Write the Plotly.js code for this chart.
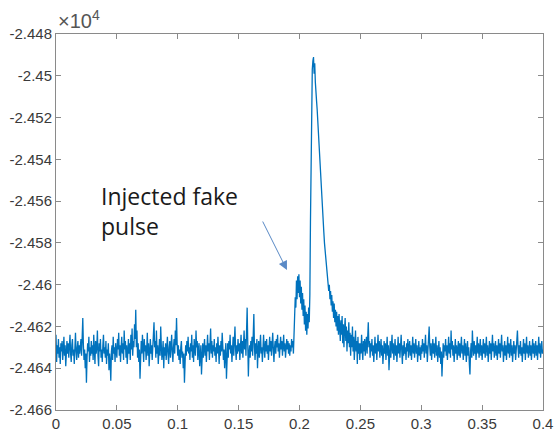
<!DOCTYPE html>
<html>
<head>
<meta charset="utf-8">
<script src="https://cdn.plot.ly/plotly-3.0.1.min.js"></script>
<style>html,body{margin:0;padding:0;background:#fff;}#chart{width:554px;height:435px;}</style>
</head>
<body>
<div id="chart"></div>
<script>
// sample spacing (s) and raw signal values (counts); axis shows them scaled by 1e4
var sampleStep = 0.0005;
var signalPre = [
-24624,-24637,-24629,-24633,-24626,-24635,-24630,-24638,-24628,-24632,-24627,-24636,-24631,-24625,-24634,-24629,-24639,-24630,-24627,-24633,
-24628,-24635,-24630,-24624,-24633,-24637,-24629,-24626,-24634,-24631,-24638,-24628,-24623,-24632,-24636,-24630,-24627,-24635,-24629,-24633,
-24630,-24626,-24634,-24628,-24616,-24629,-24636,-24631,-24640,-24633,-24647,-24635,-24628,-24632,-24625,-24637,-24630,-24634,-24627,-24633,
-24629,-24636,-24624,-24631,-24638,-24627,-24633,-24630,-24622,-24634,-24639,-24628,-24632,-24626,-24635,-24631,-24637,-24629,-24624,-24633,
-24630,-24635,-24627,-24638,-24631,-24634,-24628,-24641,-24633,-24637,-24646,-24632,-24629,-24636,-24625,-24633,-24630,-24637,-24628,-24632,
-24635,-24626,-24631,-24623,-24634,-24629,-24637,-24630,-24625,-24633,-24628,-24636,-24622,-24631,-24627,-24635,-24629,-24638,-24631,-24626,
-24633,-24628,-24636,-24624,-24631,-24621,-24634,-24627,-24630,-24619,-24626,-24612,-24630,-24622,-24635,-24628,-24637,-24631,-24645,-24634,
-24627,-24633,-24624,-24630,-24637,-24626,-24632,-24629,-24636,-24631,-24623,-24634,-24628,-24639,-24630,-24626,-24633,-24629,-24636,-24631,
-24625,-24618,-24630,-24627,-24635,-24622,-24633,-24629,-24638,-24631,-24626,-24634,-24620,-24629,-24636,-24632,-24627,-24640,-24630,-24634,
-24628,-24636,-24631,-24625,-24633,-24638,-24630,-24627,-24635,-24629,-24624,-24632,-24637,-24630,-24626,-24633,-24622,-24629,-24616,-24628,
-24634,-24629,-24636,-24631,-24638,-24630,-24627,-24635,-24632,-24640,-24633,-24647,-24636,-24629,-24634,-24627,-24632,-24625,-24633,-24630,
-24636,-24628,-24632,-24624,-24635,-24629,-24637,-24626,-24631,-24634,-24622,-24630,-24627,-24636,-24631,-24628,-24639,-24632,-24629,-24643,
-24633,-24628,-24635,-24630,-24626,-24634,-24629,-24637,-24631,-24624,-24632,-24628,-24636,-24630,-24621,-24633,-24627,-24635,-24629,-24632,
-24626,-24634,-24630,-24637,-24628,-24633,-24625,-24631,-24638,-24629,-24634,-24627,-24632,-24623,-24630,-24636,-24631,-24640,-24633,-24628,
-24645,-24632,-24628,-24635,-24627,-24631,-24624,-24633,-24629,-24637,-24630,-24625,-24634,-24628,-24620,-24631,-24636,-24629,-24633,-24626,
-24632,-24628,-24636,-24630,-24624,-24633,-24627,-24635,-24629,-24622,-24631,-24626,-24634,-24618,-24611,-24628,-24644,-24633,-24629,-24635,
-24627,-24632,-24625,-24634,-24621,-24614,-24630,-24636,-24628,-24633,-24626,-24640,-24631,-24627,-24635,-24629,-24624,-24633,-24630,-24637,
-24628,-24624,-24631,-24635,-24627,-24632,-24626,-24633,-24629,-24636,-24630,-24625,-24632,-24627,-24634,-24629,-24623,-24631,-24637,-24630,
-24627,-24633,-24626,-24630,-24624,-24632,-24628,-24635,-24629,-24625,-24631,-24627,-24634,-24630,-24624,-24632,-24628,-24635,-24630,-24626
];
var signalPulse = [
-24631,-24627,-24633,-24628,-24634,-24629,-24632,-24626,-24630,-24627,-24633,-24626,-24618,-24606,-24611,-24598,-24607,-24596,-24604,-24595,
-24606,-24598,-24609,-24601,-24612,-24604,-24615,-24607,-24619,-24610,-24622,-24613,-24624,-24614,-24621,-24611,-24618,-24605,-24570,-24535,
-24510,-24497,-24493,-24491,-24499,-24494,-24503,-24506,-24512,-24516,-24522,-24526,-24533,-24537,-24545,-24549,-24556,-24562,-24566,-24572,
-24575,-24580,-24584,-24586,-24591,-24593,-24597,-24599,-24603,-24600,-24607,-24603,-24610,-24605,-24613,-24608,-24616,-24609,-24618,-24612,
-24620,-24613,-24622,-24615,-24624,-24614,-24621,-24627,-24617,-24624,-24615,-24628,-24619,-24630,-24621,-24616,-24627,-24620,-24632,-24622,
-24628,-24618,-24630,-24623,-24634,-24624,-24630,-24620,-24632,-24625,-24636,-24626,-24622,-24632,-24627,-24638,-24625,-24633,-24628,-24636
];
var signalPost = [
-24628,-24633,-24624,-24631,-24636,-24627,-24632,-24626,-24634,-24629,-24625,-24633,-24622,-24618,-24630,-24627,-24635,-24628,-24632,-24626,
-24634,-24629,-24637,-24630,-24625,-24633,-24628,-24636,-24631,-24624,-24632,-24627,-24635,-24630,-24626,-24634,-24629,-24638,-24631,-24627,
-24633,-24628,-24636,-24630,-24625,-24634,-24629,-24641,-24632,-24627,-24635,-24630,-24624,-24633,-24628,-24636,-24631,-24626,-24634,-24629,
-24637,-24630,-24625,-24633,-24628,-24635,-24631,-24624,-24632,-24638,-24629,-24634,-24627,-24633,-24630,-24636,-24628,-24632,-24626,-24635,
-24630,-24627,-24634,-24629,-24636,-24631,-24625,-24633,-24628,-24635,-24630,-24626,-24633,-24629,-24637,-24631,-24627,-24634,-24630,-24636,
-24629,-24633,-24626,-24632,-24628,-24635,-24630,-24624,-24633,-24629,-24637,-24631,-24627,-24620,-24630,-24634,-24628,-24636,-24631,-24626,
-24633,-24628,-24635,-24630,-24625,-24634,-24629,-24637,-24631,-24627,-24635,-24630,-24638,-24632,-24644,-24633,-24628,-24635,-24629,-24632,
-24626,-24634,-24629,-24636,-24630,-24625,-24633,-24628,-24635,-24622,-24631,-24627,-24634,-24629,-24637,-24631,-24626,-24633,-24629,-24636,
-24630,-24627,-24634,-24628,-24635,-24631,-24625,-24633,-24629,-24636,-24630,-24626,-24634,-24628,-24637,-24631,-24627,-24634,-24630,-24638,
-24643,-24632,-24628,-24635,-24622,-24630,-24634,-24627,-24633,-24629,-24636,-24630,-24625,-24633,-24628,-24635,-24631,-24626,-24634,-24629,
-24636,-24630,-24626,-24633,-24628,-24635,-24631,-24625,-24634,-24629,-24637,-24631,-24627,-24633,-24628,-24636,-24630,-24624,-24632,-24628,
-24635,-24630,-24627,-24634,-24629,-24636,-24631,-24626,-24633,-24628,-24635,-24630,-24624,-24632,-24629,-24637,-24631,-24627,-24634,-24629,
-24636,-24630,-24625,-24633,-24628,-24635,-24631,-24626,-24634,-24629,-24637,-24631,-24627,-24633,-24629,-24636,-24630,-24625,-24622,-24630,
-24635,-24629,-24633,-24627,-24634,-24630,-24637,-24631,-24626,-24633,-24628,-24636,-24630,-24625,-24633,-24629,-24635,-24631,-24627,-24634,
-24629,-24636,-24630,-24626,-24633,-24628,-24635,-24631,-24627,-24634,-24629,-24636,-24630,-24625,-24633,-24628,-24635,-24630,-24627,-24633,
-24631
];
var xTickVals = [0, 0.05, 0.1, 0.15, 0.2, 0.25, 0.3, 0.35, 0.4];
var xTickText = ["0", "0.05", "0.1", "0.15", "0.2", "0.25", "0.3", "0.35", "0.4"];
var yTickVals = [-24480, -24500, -24520, -24540, -24560, -24580, -24600, -24620, -24640, -24660];
var yTickText = ["-2.448", "-2.45", "-2.452", "-2.454", "-2.456", "-2.458", "-2.46", "-2.462", "-2.464", "-2.466"];
var annotationText = "Injected fake<br>pulse";
var arrowTarget = {x: 0.1897, y: -24593};

var ySignal = signalPre.concat(signalPulse, signalPost);
var xTime = ySignal.map(function (v, i) { return +(i * sampleStep).toFixed(4); });

var axisColor = '#8a8a8a';
var labelColor = '#3a3a3a';

var data = [{
  type: 'scatter', mode: 'lines', x: xTime, y: ySignal,
  line: {color: '#0072BD', width: 1.3}, hoverinfo: 'skip'
}];

var layout = {
  width: 554, height: 435,
  margin: {l: 56, r: 11, t: 34, b: 25},
  paper_bgcolor: '#ffffff', plot_bgcolor: '#ffffff',
  font: {family: 'Liberation Sans, Arial, sans-serif', size: 15, color: labelColor},
  showlegend: false,
  xaxis: {
    range: [0, 0.4], tickvals: xTickVals, ticktext: xTickText,
    ticks: 'inside', ticklen: 5, tickcolor: axisColor, tickwidth: 1,
    showline: true, linecolor: axisColor, linewidth: 1, mirror: 'allticks',
    showgrid: false, zeroline: false, fixedrange: true,
    tickfont: {size: 15, color: labelColor}
  },
  yaxis: {
    range: [-24660, -24480], tickvals: yTickVals, ticktext: yTickText,
    ticks: 'inside', ticklen: 5, tickcolor: axisColor, tickwidth: 1,
    showline: true, linecolor: axisColor, linewidth: 1, mirror: 'allticks',
    showgrid: false, zeroline: false, fixedrange: true,
    tickfont: {size: 15, color: labelColor}
  },
  annotations: [
    {xref: 'paper', yref: 'paper', x: 0, y: 1, xanchor: 'left', yanchor: 'bottom',
     text: '×10<sup>4</sup>', showarrow: false, font: {size: 20, color: '#555555'}},
    {xref: 'paper', yref: 'paper', x: 0.088, y: 0.618, xanchor: 'left', yanchor: 'top',
     text: annotationText, align: 'left', showarrow: false,
     font: {family: 'Open Sans, Noto Sans, sans-serif', size: 23, color: '#1a1a1a'}},
    {xref: 'x', yref: 'y', x: arrowTarget.x, y: arrowTarget.y, text: '',
     showarrow: true, ax: -25, ay: -50, arrowhead: 2, arrowsize: 1.8, arrowwidth: 1,
     arrowcolor: '#5a8ac6'}
  ]
};

Plotly.newPlot('chart', data, layout, {staticPlot: true, displayModeBar: false});
</script>
</body>
</html>
